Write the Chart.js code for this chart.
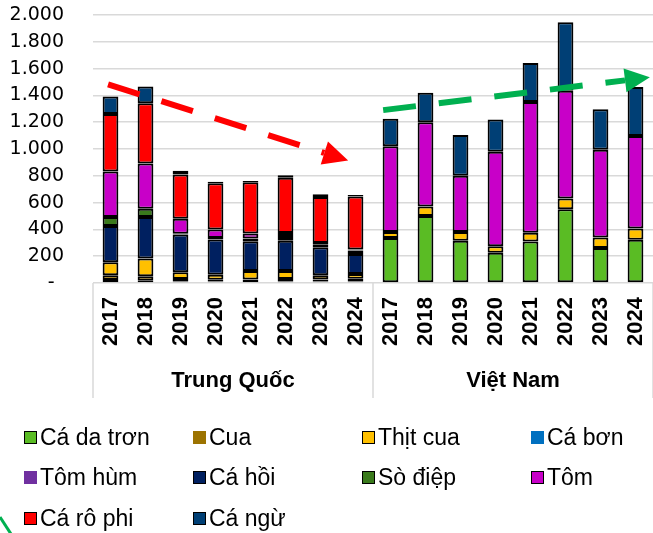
<!DOCTYPE html>
<html>
<head>
<meta charset="utf-8">
<script src="https://cdn.jsdelivr.net/npm/chart.js@4.4.0/dist/chart.umd.min.js"></script>
<style>
	html, body { margin: 0; padding: 0; background: #fff; }
	#wrap { position: relative; width: 653px; height: 533px; overflow: hidden; }
	#legend {
		position: absolute; left: 24px; top: 417px;
		display: grid; grid-template-columns: repeat(4, 169px); grid-auto-rows: 40.5px;
		font-family: 'Liberation Sans', Arial, sans-serif; font-size: 23px; color: #000;
	}
	.item { display: flex; align-items: center; white-space: nowrap; }
	.box { width: 13px; height: 13px; box-sizing: border-box; margin-right: 3px; flex: none; }
</style>
</head>
<body>
<div id="wrap">
	<canvas id="chart" width="653" height="533"></canvas>
	<div id="legend"></div>
</div>
<script>
	'use strict';

	// years per group, 8 for Trung Quốc then 8 for Việt Nam
	var years = ['2017', '2018', '2019', '2020', '2021', '2022', '2023', '2024'];
	var groups = ['Trung Quốc', 'Việt Nam'];
	var labels = years.concat(years);
	var yTicks = [0, 200, 400, 600, 800, 1000, 1200, 1400, 1600, 1800, 2000];

	var caDaTron = [22, 17, 12, 12, 15, 12, 12, 12, 335, 500, 315, 225, 310, 550, 262, 322];
	var cua      = [35, 33, 18, 13, 12, 18, 15, 20, 0, 0, 0, 0, 0, 0, 0, 0];
	var thitCua  = [98, 132, 50, 37, 63, 60, 30, 35, 45, 70, 65, 50, 65, 80, 78, 85];
	var caBon    = [0, 0, 0, 0, 0, 0, 0, 0, 0, 0, 0, 0, 0, 0, 0, 0];
	var tomHum   = [0, 0, 0, 0, 0, 0, 0, 0, 0, 0, 0, 0, 0, 0, 0, 0];
	var caHoi    = [270, 310, 282, 263, 222, 225, 210, 150, 0, 0, 0, 0, 0, 0, 0, 0];
	var soDiep   = [67, 63, 5, 10, 20, 28, 22, 25, 0, 0, 0, 0, 0, 0, 0, 0];
	var tom      = [340, 337, 113, 65, 38, 30, 10, 8, 640, 630, 420, 705, 975, 805, 655, 690];
	var caRoPhi  = [430, 450, 330, 345, 382, 412, 343, 395, 0, 0, 0, 0, 0, 0, 0, 0];
	var caNgu    = [130, 125, 27, 10, 10, 20, 20, 12, 205, 220, 305, 240, 292, 510, 302, 365];

	// trend arrows, in category index / value units
	var redArrow = { from: [-0.07, 1483], to: [6.79, 914], color: '#ff0000' };
	var greenArrow = { from: [7.79, 1290], to: [15.41, 1535], color: '#00b050' };

	function fmt(v){
		if(v === 0){
			return '-\u2002';
		}
		return String(v).replace(/\B(?=(\d{3})+(?!\d))/g, '.');
	}

	function ds(label, data, color, outlined){
		return {
			label: label,
			data: data,
			backgroundColor: color,
			borderColor: '#000',
			borderWidth: 2,
			borderSkipped: false,
			barPercentage: 0.45,
			categoryPercentage: 1,
			outlined: outlined
		};
	}

	function drawArrow(ctx, x1, y1, x2, y2, color){
		var ang = Math.atan2(y2 - y1, x2 - x1);
		var headLen = 25, headW = 12;
		var bx = x2 - Math.cos(ang) * headLen;
		var by = y2 - Math.sin(ang) * headLen;
		ctx.save();
		ctx.strokeStyle = color;
		ctx.fillStyle = color;
		ctx.lineWidth = 6;
		ctx.lineCap = 'butt';
		ctx.setLineDash([33, 23]);
		ctx.beginPath();
		ctx.moveTo(x1, y1);
		ctx.lineTo(bx, by);
		ctx.stroke();
		ctx.setLineDash([]);
		ctx.beginPath();
		ctx.moveTo(x2, y2);
		ctx.lineTo(bx + Math.sin(ang) * headW, by - Math.cos(ang) * headW);
		ctx.lineTo(bx - Math.sin(ang) * headW, by + Math.cos(ang) * headW);
		ctx.closePath();
		ctx.fill();
		ctx.restore();
	}

	var groupAxis = {
		id: 'groupAxis',
		afterDraw: function(chart){
			var ctx = chart.ctx;
			var x = chart.scales.x;
			var y = chart.scales.y;
			var area = chart.chartArea;
			var n = years.length;
			var half = (x.getPixelForValue(1) - x.getPixelForValue(0)) / 2;

			ctx.save();
			ctx.strokeStyle = '#d9d9d9';
			ctx.lineWidth = 1.5;
			for(var g = 0; g <= groups.length; g++){
				var px = g === 0 ? area.left : x.getPixelForValue(g * n - 1) + half;
				ctx.beginPath();
				ctx.moveTo(px, area.bottom);
				ctx.lineTo(px, 398);
				ctx.stroke();
			}
			ctx.fillStyle = '#000';
			ctx.font = 'bold 22px "Liberation Sans", Arial, sans-serif';
			ctx.textAlign = 'center';
			ctx.textBaseline = 'middle';
			groups.forEach(function(name, g){
				var cx = (x.getPixelForValue(g * n) + x.getPixelForValue(g * n + n - 1)) / 2;
				ctx.fillText(name, cx, 381);
			});
			ctx.restore();

			[redArrow, greenArrow].forEach(function(a){
				drawArrow(ctx,
					x.getPixelForValue(a.from[0]), y.getPixelForValue(a.from[1]),
					x.getPixelForValue(a.to[0]), y.getPixelForValue(a.to[1]),
					a.color);
			});

			// bit of logo in the corner
			ctx.save();
			ctx.strokeStyle = '#00b050';
			ctx.lineWidth = 3;
			ctx.beginPath();
			ctx.moveTo(0, 517);
			ctx.lineTo(11, 534);
			ctx.stroke();
			ctx.restore();
		}
	};

	var chart = new Chart(document.getElementById('chart').getContext('2d'), {
		type: 'bar',
		data: {
			labels: labels,
			datasets: [
				ds('Cá da trơn', caDaTron, '#5abc24', true),
				ds('Cua', cua, '#9c7300', false),
				ds('Thịt cua', thitCua, '#ffc000', true),
				ds('Cá bơn', caBon, '#0070c0', false),
				ds('Tôm hùm', tomHum, '#7030a0', false),
				ds('Cá hồi', caHoi, '#002060', true),
				ds('Sò điệp', soDiep, '#3a7a1c', true),
				ds('Tôm', tom, '#c800c8', true),
				ds('Cá rô phi', caRoPhi, '#ff0000', true),
				ds('Cá ngừ', caNgu, '#003f75', true)
			]
		},
		options: {
			responsive: false,
			animation: false,
			devicePixelRatio: 1,
			layout: { padding: { top: 15, right: 0, left: 0, bottom: 0 } },
			plugins: {
				legend: { display: false },
				tooltip: { enabled: false }
			},
			scales: {
				x: {
					stacked: true,
					grid: { display: false, drawTicks: false },
					border: { display: false },
					ticks: {
						color: '#000',
						font: { family: '"Liberation Sans", Arial, sans-serif', size: 22, weight: 'bold' },
						minRotation: 90,
						maxRotation: 90,
						padding: 14,
						autoSkip: false
					},
					afterFit: function(s){
						s.height = 250;
						s.paddingLeft = 0;
						s.paddingRight = 0;
						s.paddingTop = 0;
						s.paddingBottom = 0;
					}
				},
				y: {
					stacked: true,
					min: 0,
					max: 2000,
					afterBuildTicks: function(s){
						s.ticks = yTicks.map(function(v){ return { value: v }; });
					},
					grid: { color: '#d9d9d9', lineWidth: 1.5, drawTicks: false },
					border: { display: false },
					ticks: {
						color: '#000',
						autoSkip: false,
						font: { family: '"DejaVu Sans", Arial, sans-serif', size: 19 },
						padding: 29,
						callback: function(v){ return fmt(v); }
					},
					afterFit: function(s){
						s.width = 93;
						s.paddingTop = 0;
						s.paddingBottom = 0;
					}
				}
			}
		},
		plugins: [groupAxis]
	});

	// legend in 4 columns like the original
	var legendEl = document.getElementById('legend');
	chart.data.datasets.forEach(function(d){
		var item = document.createElement('div');
		item.className = 'item';
		var box = document.createElement('span');
		box.className = 'box';
		box.style.background = d.backgroundColor;
		if(d.outlined){
			box.style.border = '1.5px solid #000';
		}
		item.appendChild(box);
		item.appendChild(document.createTextNode(d.label));
		legendEl.appendChild(item);
	});
</script>
</body>
</html>
